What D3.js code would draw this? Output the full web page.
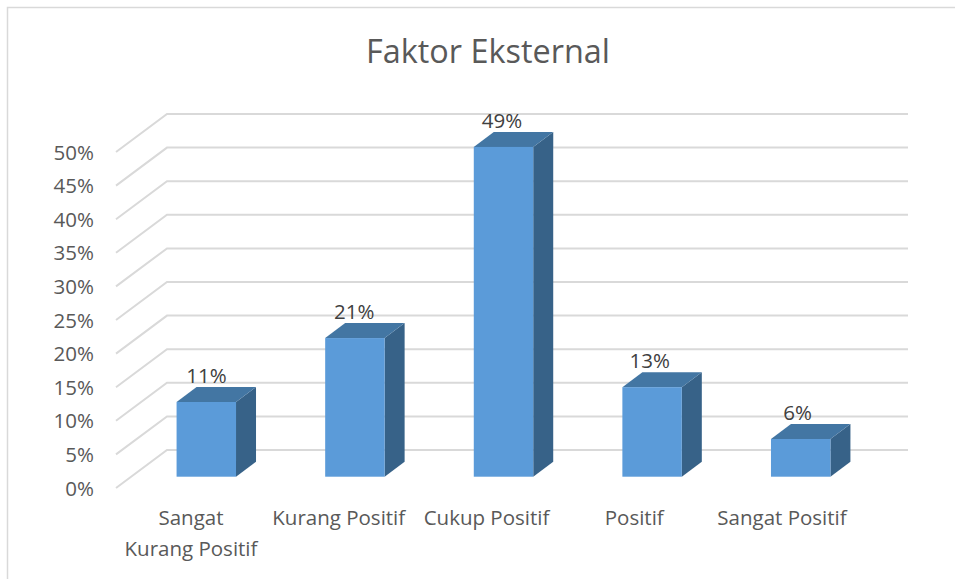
<!DOCTYPE html>
<html>
<head>
<meta charset="utf-8">
<script src="https://cdn.jsdelivr.net/npm/d3@7"></script>
<style>
  html, body { margin: 0; padding: 0; background: #fff; }
  svg { display: block; }
  text { font-family: "Open Sans", "Noto Sans", sans-serif; fill: #595959; }
</style>
</head>
<body>
<svg id="chart" width="955" height="579"></svg>
<script>
const categories = [["Sangat", "Kurang Positif"], ["Kurang Positif"], ["Cukup Positif"], ["Positif"], ["Sangat Positif"]];
const values = [11.1, 20.6, 49, 13.3, 5.6];
const valueLabels = ["11%", "21%", "49%", "13%", "6%"];
const ticks = [0, 5, 10, 15, 20, 25, 30, 35, 40, 45, 50];

const svg = d3.select("#chart");
const width = +svg.attr("width");
const height = +svg.attr("height");

// frame, only top and left edges are visible in the crop
svg.append("path")
  .attr("d", `M7.5,${height}V7.5H${width}`)
  .attr("fill", "none")
  .attr("stroke", "#d9d9d9")
  .attr("stroke-width", 1.5);

svg.append("text")
  .attr("x", 488)
  .attr("y", 63)
  .attr("text-anchor", "middle")
  .style("font-size", "32.4px")
  .text("Faktor Eksternal");

// y on the front plane of the floor
const yScale = d3.scaleLinear().domain([0, 50]).range([488, 152]);
// the bars stand a bit behind the front edge
const barY = d3.scaleLinear().domain([0, 50]).range([476.7, 140.2]);
const xScale = d3.scaleBand()
  .domain(d3.range(values.length))
  .range([132, 875])
  .paddingInner(0.6)
  .paddingOuter(0.3);
// labels sit on a slightly tighter spacing than the bars
const valueX = d3.scalePoint().domain(d3.range(values.length)).range([206.5, 797.5]);
const categoryX = d3.scalePoint().domain(d3.range(values.length)).range([191, 782]);

const frontX = 116;
const backX = 167;
const endX = 908;
const wallRise = 38;
const barDx = 20;
const barDy = 15;

// gridlines: slanted side wall, then back wall
svg.append("g")
  .selectAll("path")
  .data(ticks)
  .join("path")
  .attr("d", (d) => {
    const y = yScale(d);
    return `M${frontX},${y}L${backX},${y - wallRise}H${endX}`;
  })
  .attr("fill", "none")
  .attr("stroke", "#d9d9d9")
  .attr("stroke-width", 2);

// y axis labels
const yAxis = svg.append("g")
  .attr("transform", "translate(94,0.5)")
  .call(d3.axisLeft(yScale).tickValues(ticks).tickSize(0).tickPadding(0).tickFormat((d) => d + "%"));
yAxis.select(".domain").remove();
yAxis.selectAll("text").style("font-size", "20.5px").style("fill", "#595959");

// bars
const bars = svg.append("g")
  .selectAll("g")
  .data(values)
  .join("g");

bars.append("path")
  .attr("fill", "#376288")
  .attr("d", (d, i) => {
    const x = xScale(i) + xScale.bandwidth();
    return `M${x},${barY(d)}l${barDx},${-barDy}V${barY(0) - barDy}l${-barDx},${barDy}Z`;
  });

bars.append("path")
  .attr("fill", "#4376a3")
  .attr("d", (d, i) => {
    const x = xScale(i);
    const w = xScale.bandwidth();
    return `M${x},${barY(d)}l${barDx},${-barDy}h${w}l${-barDx},${barDy}Z`;
  });

bars.append("rect")
  .attr("fill", "#5b9bd9")
  .attr("x", (d, i) => xScale(i))
  .attr("y", (d) => barY(d))
  .attr("width", xScale.bandwidth())
  .attr("height", (d) => barY(0) - barY(d));

// value labels
svg.append("g")
  .selectAll("text")
  .data(values)
  .join("text")
  .attr("x", (d, i) => valueX(i))
  .attr("y", (d) => barY(d) - 19)
  .attr("text-anchor", "middle")
  .style("font-size", "20.5px")
  .style("fill", "#404040")
  .text((d, i) => valueLabels[i]);

// category labels
svg.append("g")
  .selectAll("text")
  .data(categories)
  .join("text")
  .attr("x", (d, i) => categoryX(i))
  .attr("y", 525)
  .attr("text-anchor", "middle")
  .style("font-size", "20.5px")
  .selectAll("tspan")
  .data((d) => d)
  .join("tspan")
  .attr("x", function () { return d3.select(this.parentNode).attr("x"); })
  .attr("dy", (d, i) => (i ? 31 : 0))
  .text((d) => d);
</script>
</body>
</html>
